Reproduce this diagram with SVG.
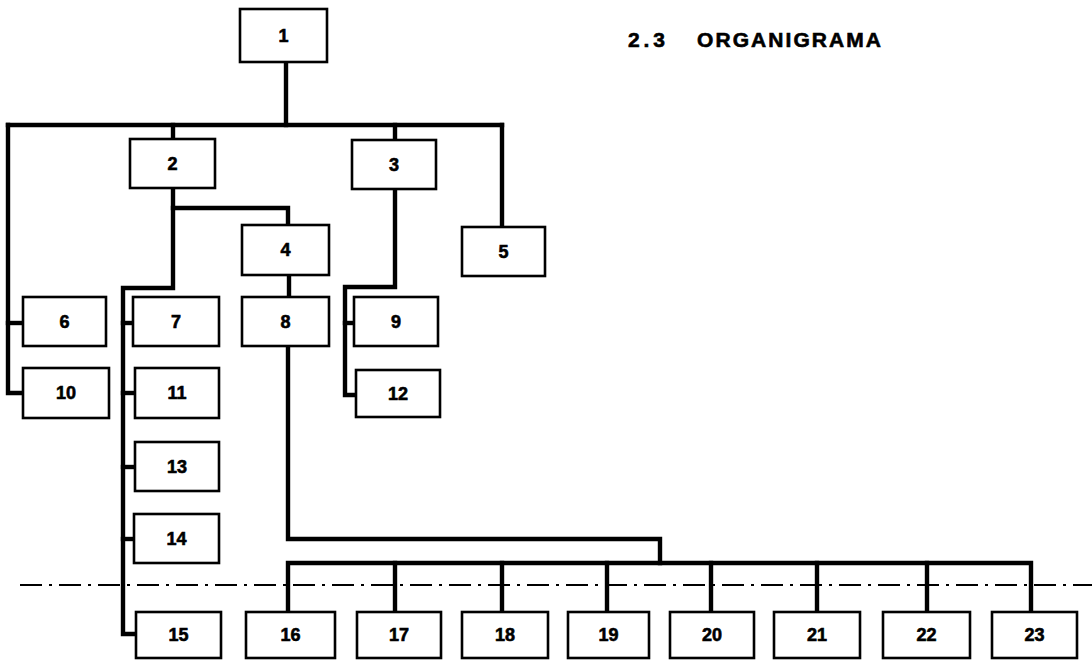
<svg xmlns="http://www.w3.org/2000/svg" width="1092" height="661" viewBox="0 0 1092 661">
<style>
.box rect{fill:#fff;stroke:#000;stroke-width:2.6}
.box text{font-family:"Liberation Sans",Arial,sans-serif;font-weight:bold;font-size:18px;text-anchor:middle;fill:#000;stroke:#000;stroke-width:0.6}
.con path{fill:none;stroke:#000;stroke-width:4.4;stroke-linejoin:miter;stroke-linecap:square}
.sep{fill:none;stroke:#000;stroke-width:2.2;stroke-dasharray:22 7 3 7}
.title{font-family:"Liberation Sans",Arial,sans-serif;font-weight:bold;font-size:21px;fill:#000;stroke:#000;stroke-width:0.6}
</style>
<rect width="1092" height="661" fill="#fff"/>
<line class="sep" x1="20" y1="585" x2="1092" y2="585"/>
<text class="title" x="628" y="47" textLength="37" lengthAdjust="spacing">2.3</text>
<text class="title" x="697" y="47" textLength="184" lengthAdjust="spacing">ORGANIGRAMA</text>
<g class="con" id="connectors">
<path d="M286,62 V125"/>
<path d="M8,125 H502"/>
<path d="M8,125 V393 H23"/>
<path d="M8,323 H23"/>
<path d="M173,125 V139"/>
<path d="M395,125 V140"/>
<path d="M502,125 V227"/>
<path d="M173,188 V288 H123 V634 H136"/>
<path d="M173,208 H288 V225"/>
<path d="M123,323 H133"/>
<path d="M123,393 H135"/>
<path d="M123,467 H135"/>
<path d="M123,539 H134"/>
<path d="M289,275 V297"/>
<path d="M288,346 V539 H660 V563"/>
<path d="M288,612 V563 H1031 V612"/>
<path d="M395,563 V612"/>
<path d="M502,563 V612"/>
<path d="M607,563 V612"/>
<path d="M711,563 V612"/>
<path d="M817,563 V612"/>
<path d="M927,563 V612"/>
<path d="M395,189 V287 H345 V395 H356"/>
<path d="M345,323 H354"/>
</g>
<g class="box" id="n1"><rect x="240" y="9" width="87" height="53"/><text x="283.5" y="42">1</text></g>
<g class="box" id="n2"><rect x="130" y="139" width="85" height="49"/><text x="172.5" y="170">2</text></g>
<g class="box" id="n3"><rect x="352" y="140" width="84" height="49"/><text x="394" y="171">3</text></g>
<g class="box" id="n4"><rect x="242" y="225" width="87" height="50"/><text x="285.5" y="256">4</text></g>
<g class="box" id="n5"><rect x="462" y="227" width="83" height="49"/><text x="503.5" y="258">5</text></g>
<g class="box" id="n6"><rect x="23" y="297" width="83" height="49"/><text x="64.5" y="328">6</text></g>
<g class="box" id="n7"><rect x="133" y="297" width="86" height="49"/><text x="176" y="328">7</text></g>
<g class="box" id="n8"><rect x="242" y="297" width="87" height="49"/><text x="285.5" y="328">8</text></g>
<g class="box" id="n9"><rect x="354" y="297" width="84" height="49"/><text x="396" y="328">9</text></g>
<g class="box" id="n10"><rect x="23" y="368" width="86" height="50"/><text x="66" y="399">10</text></g>
<g class="box" id="n11"><rect x="135" y="368" width="84" height="50"/><text x="177" y="399">11</text></g>
<g class="box" id="n12"><rect x="356" y="370" width="84" height="47"/><text x="398" y="400">12</text></g>
<g class="box" id="n13"><rect x="135" y="442" width="84" height="49"/><text x="177" y="473">13</text></g>
<g class="box" id="n14"><rect x="134" y="514" width="85" height="49"/><text x="176.5" y="545">14</text></g>
<g class="box" id="n15"><rect x="136" y="612" width="85" height="46"/><text x="178.5" y="641">15</text></g>
<g class="box" id="n16"><rect x="246" y="612" width="89" height="46"/><text x="290.5" y="641">16</text></g>
<g class="box" id="n17"><rect x="357" y="612" width="84" height="46"/><text x="399" y="641">17</text></g>
<g class="box" id="n18"><rect x="462" y="612" width="86" height="46"/><text x="505" y="641">18</text></g>
<g class="box" id="n19"><rect x="568" y="612" width="81" height="46"/><text x="608.5" y="641">19</text></g>
<g class="box" id="n20"><rect x="670" y="612" width="84" height="46"/><text x="712" y="641">20</text></g>
<g class="box" id="n21"><rect x="774" y="612" width="86" height="46"/><text x="817" y="641">21</text></g>
<g class="box" id="n22"><rect x="883" y="612" width="87" height="46"/><text x="926.5" y="641">22</text></g>
<g class="box" id="n23"><rect x="992" y="612" width="85" height="46"/><text x="1034.5" y="641">23</text></g>
</svg>
